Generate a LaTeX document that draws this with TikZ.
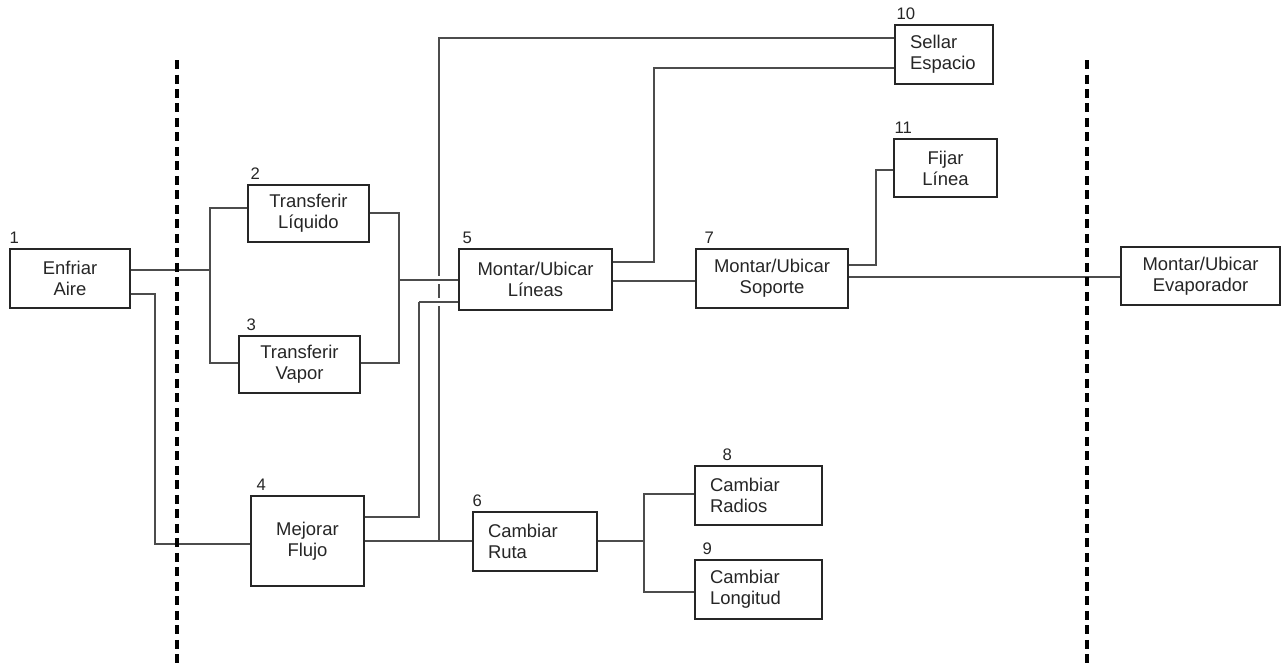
\documentclass[tikz,border=0pt]{standalone}
\usepackage{fontspec}
\setmainfont{Liberation Sans}
\usepackage{tikz}
\usetikzlibrary{backgrounds}

\begin{document}
\begin{tikzpicture}[x=0.02cm, y=-0.02cm]
		\tikzstyle{Box}		= [rectangle, draw=black!85, line width=0.8pt, fill=white, align=center, inner sep=0pt, text=black!85, font=\fontsize{10.5}{12}\selectfont]
		\tikzstyle{LeftBox}	= [align=left, inner xsep=0.3cm]
		\tikzstyle{Num}		= [anchor=south west, inner sep=0pt, text=black!85, font=\fontsize{9.5}{11}\selectfont]
		\tikzstyle{Link}	= [draw=black!70, line width=0.8pt]
		\tikzstyle{Bridge}	= [preaction={draw=white, line width=4pt, shorten <=6pt}]
		\tikzstyle{Border}	= [draw=black, line width=2.1pt, dash pattern=on 0.18cm off 0.11cm]

		\useasboundingbox (0,0) rectangle (1285,664);

		% functions
		\node (b1) at (70,278.5) [Box, minimum width=2.4cm, minimum height=1.18cm] {Enfriar\\Aire};
		\node (b2) at (308.5,213.5) [Box, minimum width=2.42cm, minimum height=1.14cm] {Transferir\\Líquido};
		\node (b3) at (299.5,364.5) [Box, minimum width=2.42cm, minimum height=1.14cm] {Transferir\\Vapor};
		\node (b4) at (307.5,541) [Box, minimum width=2.26cm, minimum height=1.8cm] {Mejorar\\Flujo};
		\node (b5) at (535.5,279.5) [Box, minimum width=3.06cm, minimum height=1.22cm] {Montar/Ubicar\\Líneas};
		\node (b6) at (535,541.5) [Box, LeftBox, text width=1.88cm, minimum height=1.18cm] {Cambiar\\Ruta};
		\node (b7) at (772,278.5) [Box, minimum width=3.04cm, minimum height=1.18cm] {Montar/Ubicar\\Soporte};
		\node (b8) at (758.5,495.5) [Box, LeftBox, text width=1.94cm, minimum height=1.18cm] {Cambiar\\Radios};
		\node (b9) at (758.5,589.5) [Box, LeftBox, text width=1.94cm, minimum height=1.18cm] {Cambiar\\Longitud};
		\node (b10) at (944,54.5) [Box, LeftBox, text width=1.36cm, minimum height=1.18cm] {Sellar\\Espacio};
		\node (b11) at (945.5,168) [Box, minimum width=2.06cm, minimum height=1.16cm] {Fijar\\Línea};
		\node (b12) at (1200.5,276) [Box, minimum width=3.18cm, minimum height=1.16cm] {Montar/Ubicar\\Evaporador};

		% numbers
		\node (n1) at ([xshift=0cm, yshift=0.08cm]b1.north west) [Num] {1};
		\node (n2) at ([xshift=0.06cm, yshift=0.08cm]b2.north west) [Num] {2};
		\node (n3) at ([xshift=0.16cm, yshift=0.08cm]b3.north west) [Num] {3};
		\node (n4) at ([xshift=0.12cm, yshift=0.08cm]b4.north west) [Num] {4};
		\node (n5) at ([xshift=0.08cm, yshift=0.08cm]b5.north west) [Num] {5};
		\node (n6) at ([xshift=0cm, yshift=0.08cm]b6.north west) [Num] {6};
		\node (n7) at ([xshift=0.18cm, yshift=0.08cm]b7.north west) [Num] {7};
		\node (n8) at ([xshift=0.56cm, yshift=0.08cm]b8.north west) [Num] {8};
		\node (n9) at ([xshift=0.16cm, yshift=0.08cm]b9.north west) [Num] {9};
		\node (n10) at ([xshift=0.04cm, yshift=0.08cm]b10.north west) [Num] {10};
		\node (n11) at ([xshift=0.02cm, yshift=0.08cm]b11.north west) [Num] {11};

		% junctions
		\coordinate (j1) at (210,270);
		\coordinate (j2) at (155,544);
		\coordinate (j3) at (399,280);
		\coordinate (j4) at (419,302);
		\coordinate (j5) at (439,541);
		\coordinate (j6) at (654,68);
		\coordinate (j7) at (876,170);
		\coordinate (j8) at (644,541);

		\begin{scope}[on background layer]
			\draw [Link] (j5) |- (b10.west |- 0,38);
			\draw [Link] (b1.east |- j1) -- (j1);
			\draw [Link] (b2.west |- 0,208) -| (j1) |- (b3.west |- 0,363);
			\draw [Link] (b1.east |- 0,294) -| (j2) -- (b4.west |- j2);
			\draw [Link] (b2.east |- 0,213) -| (j3) |- (b3.east |- 0,363);
			\draw [Link, Bridge] (j3) -- (b5.west |- j3);
			\draw [Link] (b4.east |- 0,517) -| (j4);
			\draw [Link, Bridge] (j4) -- (b5.west |- j4);
			\draw [Link] (b4.east |- j5) -- (b6.west |- j5);
			\draw [Link] (b5.east |- 0,262) -| (j6) -- (b10.west |- j6);
			\draw [Link] (b5.east |- 0,281) -- (b7.west |- 0,281);
			\draw [Link] (b7.east |- 0,265) -| (j7) -- (b11.west |- j7);
			\draw [Link] (b7.east |- 0,277) -- (b12.west |- 0,277);
			\draw [Link] (b6.east |- j8) -- (j8);
			\draw [Link] (b8.west |- 0,494) -| (j8) |- (b9.west |- 0,592);
		\end{scope}

		% system boundary
		\coordinate (s1) at (177,60);
		\coordinate (s2) at (1087,60);
		\draw [Border] (s1) -- (s1 |- 0,664);
		\draw [Border] (s2) -- (s2 |- 0,664);
	\end{tikzpicture}
\end{document}
